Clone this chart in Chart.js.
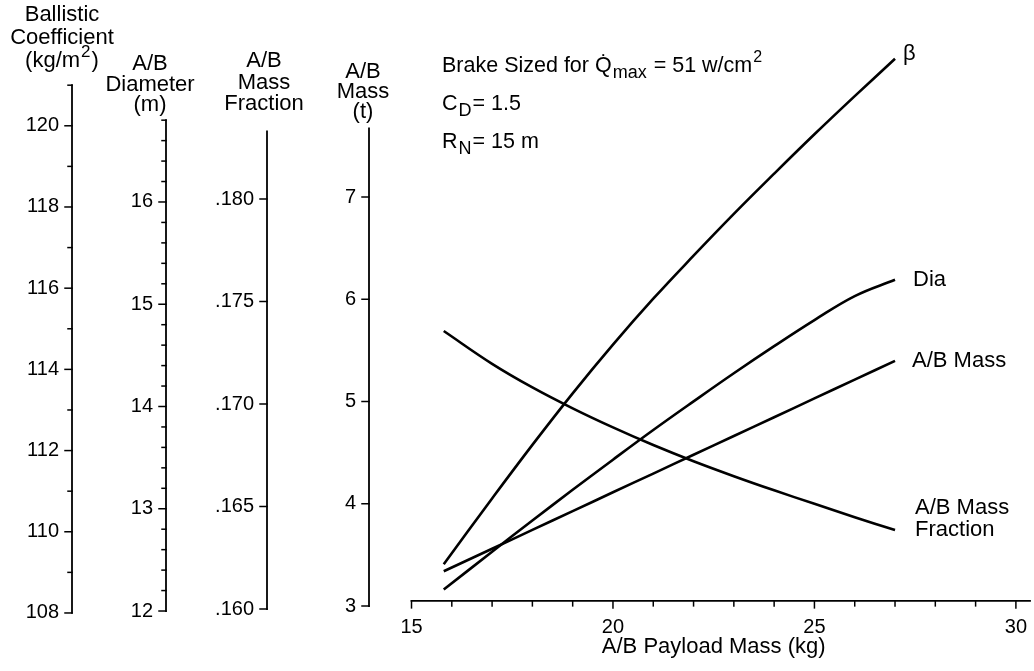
<!DOCTYPE html>
<html>
<head>
<meta charset="utf-8">
<script src="https://cdn.jsdelivr.net/npm/chart.js@4.4.1/dist/chart.umd.min.js"></script>
<style>
  html, body { margin: 0; padding: 0; background: #fff; }
  #wrap { width: 1034px; height: 671px; position: relative; }
</style>
</head>
<body>
<div id="wrap"><canvas id="chart"></canvas></div>
<script>
// payload mass (kg) where the curves were read
var payload = [15.8, 17, 18, 19, 20, 21, 22, 23, 24, 25, 26, 27];
// ballistic coefficient beta (kg/m2)
var beta = [109.2, 110.82, 112.14, 113.41, 114.61, 115.74, 116.8, 117.83, 118.82, 119.79, 120.73, 121.65];
// aerobrake diameter (m)
var diameter = [12.21, 12.58, 12.885, 13.185, 13.48, 13.77, 14.05, 14.325, 14.59, 14.845, 15.08, 15.24];
// aerobrake mass (t)
var abMass = [3.34, 3.56, 3.744, 3.928, 4.112, 4.295, 4.479, 4.663, 4.846, 5.03, 5.214, 5.398];
// aerobrake mass fraction
var massFraction = [0.17356, 0.17196, 0.17081, 0.16979, 0.16886, 0.168, 0.16721, 0.16648, 0.16579, 0.16513, 0.16448, 0.16385];

// tick values and labelled ticks
var xTicks = [15, 16, 17, 18, 19, 20, 21, 22, 23, 24, 25, 26, 27, 28, 29, 30];
var xLabels = [15, 20, 25, 30];
var betaTicks = [108, 109, 110, 111, 112, 113, 114, 115, 116, 117, 118, 119, 120, 121];
var betaLabels = [108, 110, 112, 114, 116, 118, 120];
var diaTicks = [12, 12.2, 12.4, 12.6, 12.8, 13, 13.2, 13.4, 13.6, 13.8, 14, 14.2, 14.4, 14.6, 14.8,
                15, 15.2, 15.4, 15.6, 15.8, 16, 16.2, 16.4, 16.6, 16.8];
var diaLabels = [12, 13, 14, 15, 16];
var fracTicks = [0.160, 0.165, 0.170, 0.175, 0.180];
var fracLabels = [0.160, 0.165, 0.170, 0.175, 0.180];
var massTicks = [3, 4, 5, 6, 7];
var massLabels = [3, 4, 5, 6, 7];

// extent of each drawn axis line
var betaSpan = [108, 121];
var diaSpan = [12, 16.8];
var fracSpan = [0.160, 0.1833];
var massSpan = [3, 7.67];

var xTitle = "A/B Payload Mass (kg)";

var FONT = "'Liberation Sans', Arial, Helvetica, sans-serif";
Chart.defaults.font.family = FONT;
Chart.defaults.color = "#000";

function has(list, v) {
  return list.some(function (l) { return Math.abs(l - v) < 1e-9; });
}

function yScale(ticks, labels, min, max, weight, width, fmt) {
  return {
    type: "linear",
    position: "left",
    weight: weight,
    min: min,
    max: max,
    bounds: "data",
    grid: { display: false, drawTicks: false },
    border: { display: false },
    afterBuildTicks: function (s) {
      s.ticks = ticks.map(function (v) { return { value: v }; });
    },
    afterFit: function (s) { s.width = width; },
    ticks: {
      autoSkip: false,
      padding: 13,
      font: { size: 20 },
      callback: function (v) { return has(labels, v) ? fmt(v) : ""; },
    },
  };
}

function pts(ys) {
  return payload.map(function (x, i) { return { x: x, y: ys[i] }; });
}

// draws text with _{sub} and ^{sup} parts
function rich(ctx, str, x, y, size, align) {
  var parts = str.split(/(_\{[^}]*\}|\^\{[^}]*\})/).filter(function (p) { return p; });
  var items = parts.map(function (p) {
    var kind = p[0] === "_" && p[1] === "{" ? "sub" : p[0] === "^" && p[1] === "{" ? "sup" : "";
    var t = kind ? p.slice(2, -1) : p;
    var sz = kind === "sub" ? Math.round(size * 0.82) : kind === "sup" ? Math.round(size * 0.75) : size;
    ctx.font = sz + "px " + FONT;
    return { t: t, kind: kind, sz: sz, w: ctx.measureText(t).width + (kind ? 2 : 0) };
  });
  var total = items.reduce(function (a, b) { return a + b.w; }, 0);
  var cx = align === "center" ? x - total / 2 : x;
  ctx.textAlign = "left";
  items.forEach(function (it) {
    ctx.font = it.sz + "px " + FONT;
    var dy = it.kind === "sub" ? size * 0.28 : it.kind === "sup" ? -size * 0.45 : 0;
    ctx.fillText(it.t, cx + (it.kind ? 1 : 0), y + dy);
    cx += it.w;
  });
}

var axisDefs = [
  { id: "yBeta", span: betaSpan, ticks: betaTicks, labels: betaLabels,
    title: ["Ballistic", "Coefficient", "(kg/m^{2})"], dx: -10, gap: 18, step: 23 },
  { id: "yDia", span: diaSpan, ticks: diaTicks, labels: diaLabels,
    title: ["A/B", "Diameter", "(m)"], dx: -16, gap: 9, step: 20.5 },
  { id: "yFrac", span: fracSpan, ticks: fracTicks, labels: fracLabels,
    title: ["A/B", "Mass", "Fraction"], dx: -3, gap: 21, step: 21.5 },
  { id: "y", span: massSpan, ticks: massTicks, labels: massLabels,
    title: ["A/B", "Mass", "(t)"], dx: -6, gap: 10, step: 20 },
];

var curveLabels = [
  { lines: ["\u03B2"], dx: 8, dy: -5 },
  { lines: ["Dia"], dx: 18, dy: 0 },
  { lines: ["A/B Mass"], dx: 17, dy: 0 },
  { lines: ["A/B Mass", "Fraction"], dx: 20, dy: -22 },
];

var notes = [
  "Brake Sized for Q\u0307_{max} = 51 w/cm^{2}",
  "C_{D}= 1.5",
  "R_{N}= 15 m",
];

var axesPlugin = {
  id: "axesPlugin",
  afterDraw: function (chart) {
    var ctx = chart.ctx;
    ctx.save();
    ctx.strokeStyle = "#000";
    ctx.fillStyle = "#000";
    ctx.lineCap = "square";
    function seg(x1, y1, x2, y2) {
      ctx.beginPath(); ctx.moveTo(x1, y1); ctx.lineTo(x2, y2); ctx.stroke();
    }

    // left axes
    axisDefs.forEach(function (d) {
      var s = chart.scales[d.id];
      var x = s.right;
      var top = s.getPixelForValue(d.span[1]);
      ctx.lineWidth = 1.8;
      seg(x, s.getPixelForValue(d.span[0]), x, top);
      ctx.lineWidth = 1.5;
      d.ticks.forEach(function (v) {
        var y = s.getPixelForValue(v);
        seg(x - (has(d.labels, v) ? 7 : 4), y, x, y);
      });
      ctx.textBaseline = "alphabetic";
      var n = d.title.length;
      d.title.forEach(function (t, i) {
        rich(ctx, t, x + d.dx, top - d.gap - (n - 1 - i) * d.step, 22, "center");
      });
    });

    // x axis
    var xs = chart.scales.x;
    var y0 = chart.scales.y.getPixelForValue(xs.options.position.y);
    ctx.lineWidth = 1.8;
    seg(xs.getPixelForValue(xTicks[0]), y0, chart.chartArea.right, y0);
    ctx.lineWidth = 1.5;
    xTicks.forEach(function (v) {
      var px = xs.getPixelForValue(v);
      seg(px, y0, px, y0 + (has(xLabels, v) ? 7 : 5));
    });
    ctx.font = "22px " + FONT;
    ctx.textAlign = "center";
    ctx.textBaseline = "alphabetic";
    var mid = (xLabels[0] + xLabels[xLabels.length - 1]) / 2;
    ctx.fillText(xTitle, xs.getPixelForValue(mid), y0 + 52);

    // curve labels
    ctx.font = "22px " + FONT;
    ctx.textAlign = "left";
    ctx.textBaseline = "middle";
    curveLabels.forEach(function (c, i) {
      var m = chart.getDatasetMeta(i).data;
      var last = m[m.length - 1];
      c.lines.forEach(function (t, k) {
        ctx.fillText(t, last.x + c.dx, last.y + c.dy + k * 22);
      });
    });

    // conditions note
    ctx.textBaseline = "alphabetic";
    notes.forEach(function (t, i) {
      rich(ctx, t, 442, 72 + i * 38, 21.5, "left");
    });
    ctx.restore();
  },
};

var lineStyle = {
  borderColor: "#000",
  borderWidth: 2.6,
  pointRadius: 0,
  tension: 0.4,
  fill: false,
};

new Chart(document.getElementById("chart").getContext("2d"), {
  type: "line",
  data: {
    datasets: [
      Object.assign({ label: "\u03B2", data: pts(beta), yAxisID: "yBeta" }, lineStyle),
      Object.assign({ label: "Dia", data: pts(diameter), yAxisID: "yDia" }, lineStyle),
      Object.assign({ label: "A/B Mass", data: pts(abMass), yAxisID: "y" }, lineStyle),
      Object.assign({ label: "A/B Mass Fraction", data: pts(massFraction), yAxisID: "yFrac" }, lineStyle),
    ],
  },
  options: {
    responsive: true,
    maintainAspectRatio: false,
    animation: false,
    layout: { padding: { left: 0, right: 4, top: 40, bottom: 56 } },
    plugins: { legend: { display: false }, tooltip: { enabled: false } },
    scales: {
      x: {
        type: "linear",
        position: { y: 3.05 },
        min: 13.945,
        max: 30.35,
        bounds: "data",
        grid: { display: false, drawTicks: false },
        border: { display: false },
        afterBuildTicks: function (s) {
          s.ticks = xTicks.map(function (v) { return { value: v }; });
        },
        afterFit: function (s) { s.paddingLeft = 0; s.paddingRight = 0; },
        ticks: {
          autoSkip: false,
          maxRotation: 0,
          padding: 15,
          font: { size: 20 },
          callback: function (v) { return has(xLabels, v) ? String(v) : ""; },
        },
      },
      yBeta: yScale(betaTicks, betaLabels, 107.95, 122.113, 4, 72, function (v) { return String(v); }),
      yDia: yScale(diaTicks, diaLabels, 11.961, 17.584, 3, 94, function (v) { return String(v); }),
      yFrac: yScale(fracTicks, fracLabels, 0.159707, 0.187756, 2, 101,
        function (v) { return v.toFixed(3).replace(/^0/, ""); }),
      y: yScale(massTicks, massLabels, 2.912, 8.5355, 1, 102, function (v) { return String(v); }),
    },
  },
  plugins: [axesPlugin],
});
</script>
</body>
</html>
